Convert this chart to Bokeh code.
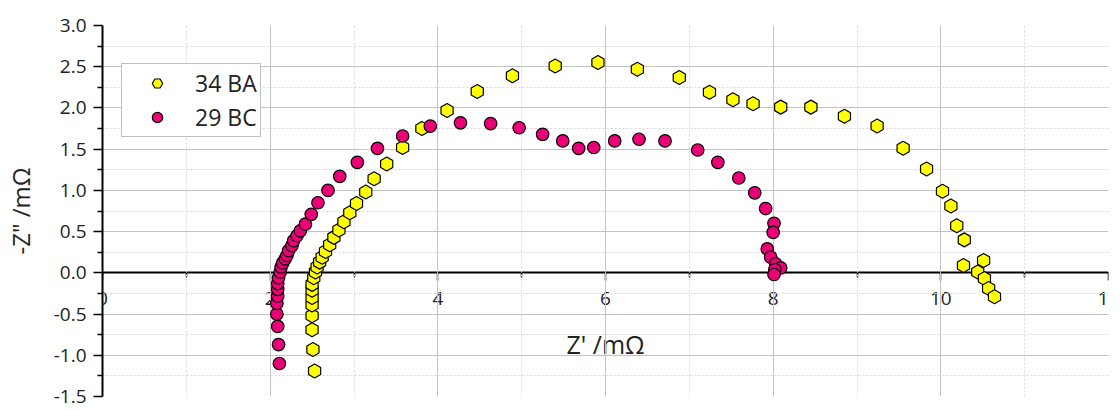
import math
from bokeh.plotting import figure
from bokeh.models import Range1d, FixedTicker, PrintfTickFormatter
from bokeh.embed import file_html
from bokeh.resources import INLINE

# ---- data ----
series_names = ["34 BA", "29 BC"]

ba_x = [2.53, 2.51, 2.50, 2.50, 2.50, 2.50, 2.50, 2.50, 2.52, 2.54,
        2.56, 2.59, 2.62, 2.66, 2.71, 2.76, 2.82, 2.88, 2.95, 3.03,
        3.14, 3.24, 3.39, 3.58, 3.81, 4.11, 4.47, 4.89, 5.40, 5.91,
        6.38, 6.88, 7.24, 7.52, 7.76, 8.09, 8.45, 8.85, 9.24, 9.55,
        9.83, 10.02, 10.12, 10.19, 10.28, 10.27, 10.51, 10.44, 10.52, 10.57,
        10.64]
ba_y = [-1.19, -0.93, -0.69, -0.52, -0.39, -0.30, -0.21, -0.14, -0.06, 0.01,
        0.07, 0.13, 0.19, 0.26, 0.34, 0.43, 0.52, 0.62, 0.73, 0.84,
        0.98, 1.14, 1.32, 1.52, 1.75, 1.97, 2.20, 2.39, 2.51, 2.55,
        2.47, 2.37, 2.19, 2.10, 2.05, 2.01, 2.01, 1.90, 1.78, 1.51,
        1.26, 0.99, 0.81, 0.57, 0.40, 0.09, 0.15, 0.01, -0.07, -0.19,
        -0.29]

bc_x = [2.11, 2.10, 2.09, 2.08, 2.08, 2.09, 2.09, 2.09, 2.10, 2.12,
        2.13, 2.15, 2.18, 2.20, 2.22, 2.26, 2.28, 2.32, 2.36, 2.42,
        2.49, 2.57, 2.69, 2.83, 3.04, 3.28, 3.58, 3.91, 4.27, 4.63,
        4.97, 5.25, 5.49, 5.68, 5.86, 6.11, 6.40, 6.71, 7.10, 7.34,
        7.59, 7.78, 7.91, 8.01, 8.00, 7.93, 7.97, 8.03, 8.09, 8.02,
        8.01]
bc_y = [-1.10, -0.87, -0.65, -0.50, -0.37, -0.28, -0.20, -0.13, -0.06, 0.01,
        0.07, 0.12, 0.17, 0.21, 0.27, 0.33, 0.39, 0.45, 0.51, 0.59,
        0.71, 0.85, 1.00, 1.17, 1.34, 1.51, 1.66, 1.78, 1.82, 1.81,
        1.76, 1.68, 1.60, 1.51, 1.52, 1.60, 1.62, 1.60, 1.49, 1.34,
        1.15, 0.97, 0.78, 0.60, 0.49, 0.29, 0.19, 0.11, 0.06, 0.04,
        -0.02]

x_ticks = [0, 2, 4, 6, 8, 10, 12]
x_minor = [1, 3, 5, 7, 9, 11]
y_ticks = [-1.5, -1.0, -0.5, 0.0, 0.5, 1.0, 1.5, 2.0, 2.5, 3.0]
y_minor = [-1.25, -0.75, -0.25, 0.25, 0.75, 1.25, 1.75, 2.25, 2.75]
x_title = "Z' /mΩ"
y_title = '-Z" /mΩ'

FONT = "Open Sans"
TXT = "#222222"

p = figure(width=1120, height=410, output_backend="svg", toolbar_location=None,
           x_range=Range1d(0, 12), y_range=Range1d(-1.5, 3.0),
           min_border_left=102, min_border_right=12,
           min_border_top=25, min_border_bottom=14)
p.outline_line_color = None
p.background_fill_color = "white"

# grids
p.xgrid.ticker = FixedTicker(ticks=[t for t in x_ticks if 0 < t < 12], minor_ticks=x_minor)
p.ygrid.ticker = FixedTicker(ticks=[t for t in y_ticks if t not in (0.0, -1.5, 3.0)], minor_ticks=y_minor)
for g in (p.xgrid, p.ygrid):
    g.grid_line_color = "#c2c2c2"
    g.grid_line_width = 1
    g.minor_grid_line_color = "#d8d8d8"
    g.minor_grid_line_dash = "2 2"
    g.minor_grid_line_width = 1

# x axis at y = 0
xa = p.xaxis[0]
xa.fixed_location = 0
xa.level = "underlay"
xa.ticker = FixedTicker(ticks=x_ticks, minor_ticks=x_minor)
xa.axis_line_color = "black"
xa.axis_line_width = 2
xa.major_tick_line_color = "black"
xa.major_tick_line_width = 1.5
xa.minor_tick_line_color = "black"
xa.minor_tick_line_width = 1.5
xa.major_tick_in = 0
xa.major_tick_out = 8
xa.minor_tick_in = 0
xa.minor_tick_out = 5
xa.major_label_text_font = FONT
xa.major_label_text_font_size = "19px"
xa.major_label_text_color = TXT
xa.major_label_standoff = 11
xa.axis_label = x_title
xa.axis_label_text_font = FONT
xa.axis_label_text_font_size = "25px"
xa.axis_label_text_font_style = "normal"
xa.axis_label_text_color = TXT
xa.axis_label_standoff = 19

ya = p.yaxis[0]
ya.ticker = FixedTicker(ticks=y_ticks, minor_ticks=y_minor)
ya.formatter = PrintfTickFormatter(format="%.1f")
ya.axis_line_color = "black"
ya.axis_line_width = 2
ya.major_tick_line_color = "black"
ya.major_tick_line_width = 1.5
ya.minor_tick_line_color = "black"
ya.minor_tick_line_width = 1.5
ya.major_tick_in = 0
ya.major_tick_out = 9
ya.minor_tick_in = 0
ya.minor_tick_out = 5
ya.major_label_text_font = FONT
ya.major_label_text_font_size = "19px"
ya.major_label_text_color = TXT
ya.major_label_standoff = 7
ya.axis_label = y_title
ya.axis_label_text_font = FONT
ya.axis_label_text_font_size = "24px"
ya.axis_label_text_font_style = "normal"
ya.axis_label_text_color = TXT
ya.axis_label_standoff = 14

p.scatter(ba_x, ba_y, marker="hex", size=14, angle=math.pi / 2,
          fill_color="#ffff00", line_color="black", line_width=1.2,
          legend_label=series_names[0])
p.scatter(bc_x, bc_y, marker="circle", size=12.5,
          fill_color="#ec0078", line_color="black", line_width=1.2,
          legend_label=series_names[1])

lg = p.legend[0]
lg.location = (19, 259)
lg.margin = 0
lg.padding = 3
lg.spacing = 2
lg.glyph_width = 64
lg.glyph_height = 26
lg.label_height = 26
lg.label_width = 62
lg.label_standoff = 6
lg.label_text_font = FONT
lg.label_text_font_size = "23px"
lg.label_text_color = TXT
lg.border_line_color = "#808080"
lg.border_line_width = 1
lg.background_fill_color = "white"
lg.background_fill_alpha = 1.0

open("out.html", "w").write(file_html(p, INLINE))
